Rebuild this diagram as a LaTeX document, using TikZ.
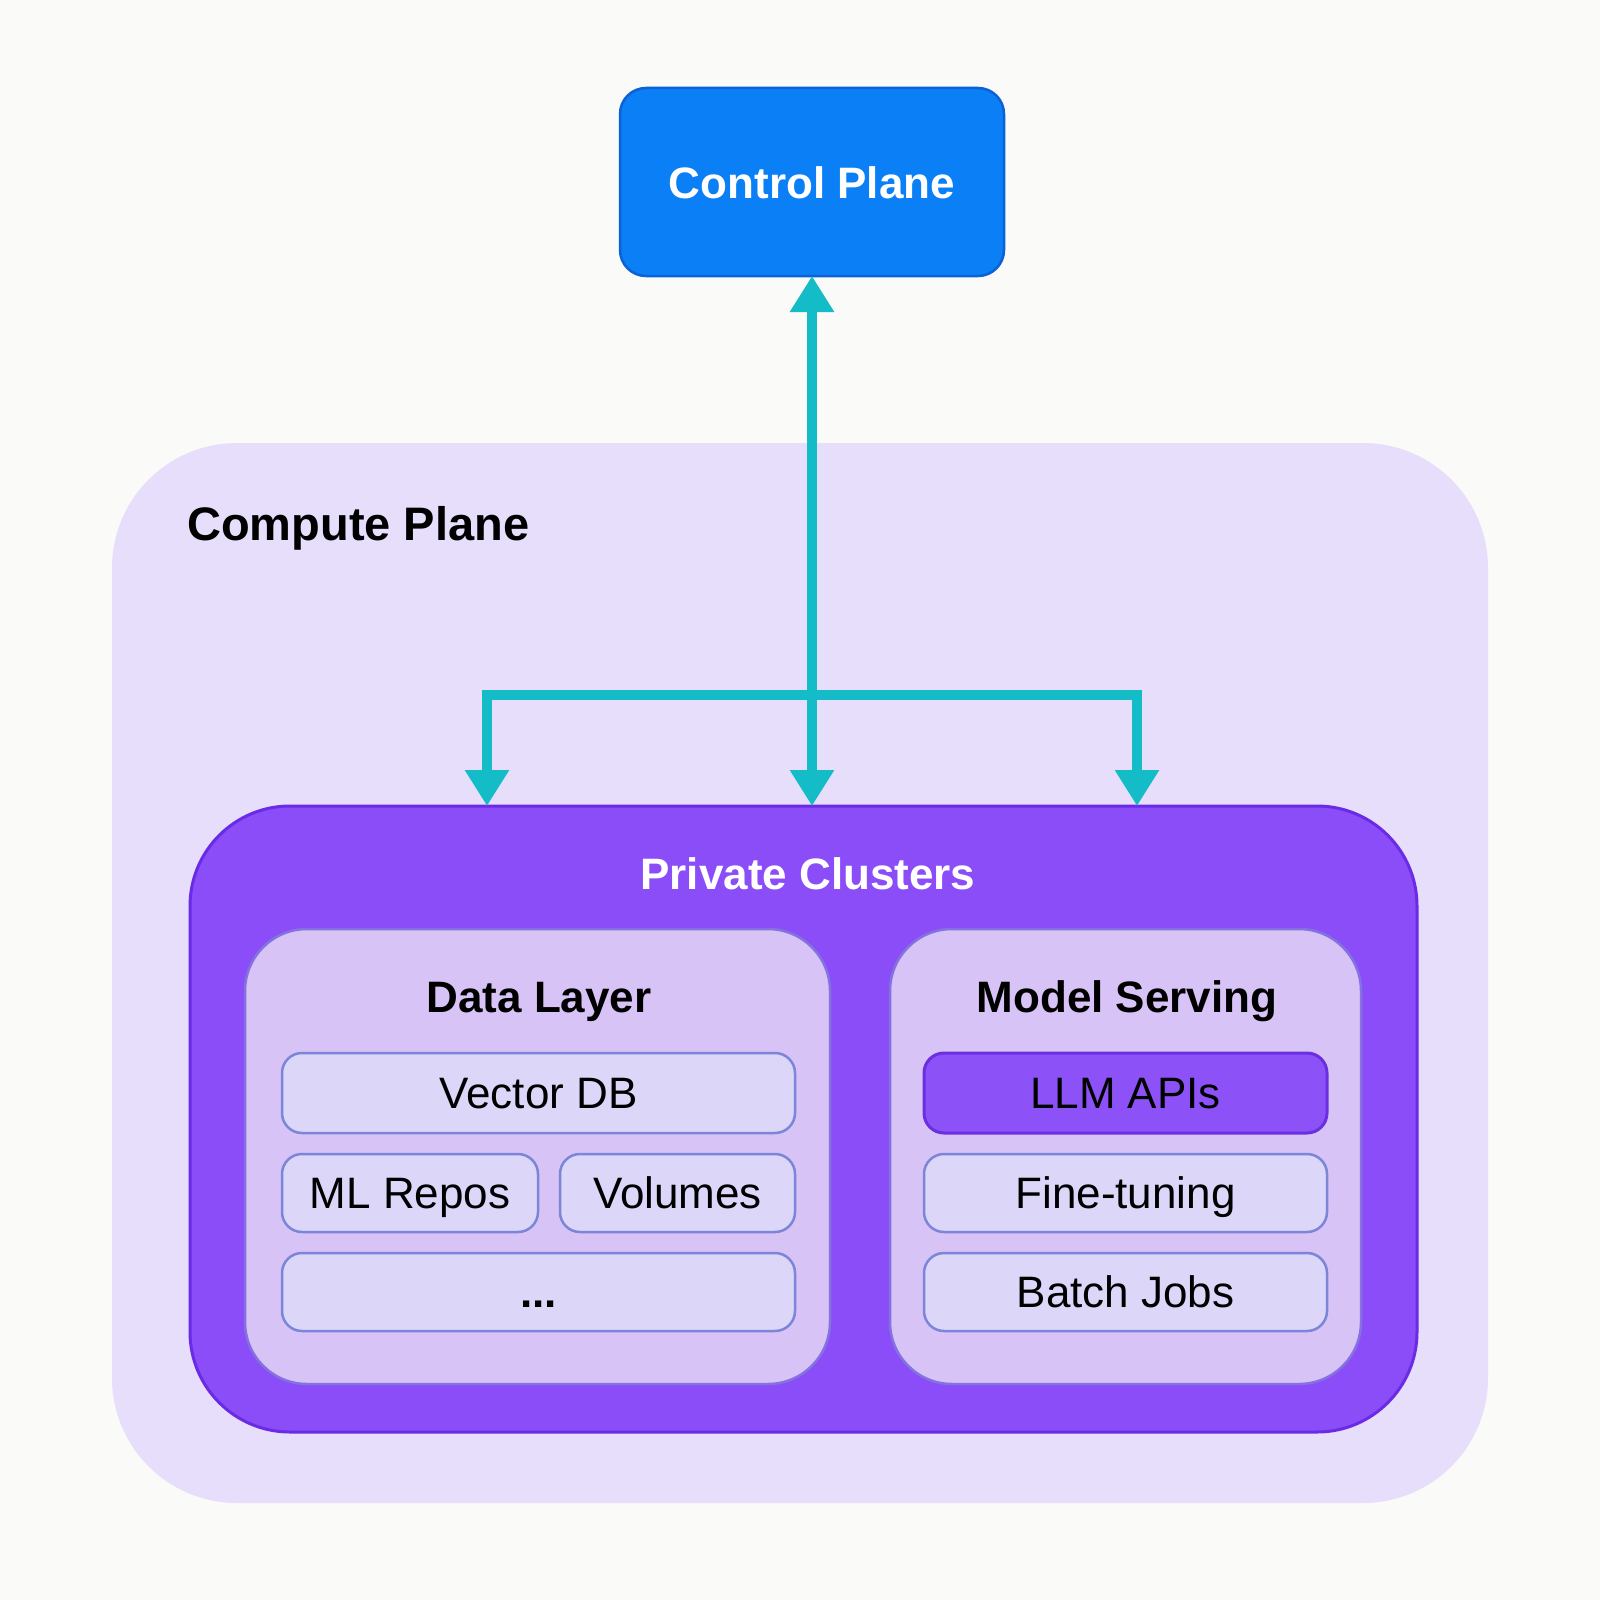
\documentclass[tikz,border=0pt]{standalone}
\usepackage{fontspec}
\setmainfont{Liberation Sans}
\usetikzlibrary{arrows.meta}
\definecolor{bgc}{HTML}{FAFAF8}
\definecolor{computefill}{HTML}{E6DEFA}
\definecolor{ctrlfill}{HTML}{0B80F6}
\definecolor{ctrldraw}{HTML}{0A62D6}
\definecolor{flowc}{HTML}{14BCC8}
\definecolor{pcfill}{HTML}{8A4DF8}
\definecolor{pcdraw}{HTML}{6A2BE6}
\definecolor{layerfill}{HTML}{D8C3F7}
\definecolor{layerdraw}{HTML}{8472E0}
\definecolor{leaffill}{HTML}{DCD6F9}
\definecolor{leafdraw}{HTML}{7C86D8}
\definecolor{hotfill}{HTML}{8D52F7}
\definecolor{hotdraw}{HTML}{6A30E0}
\begin{document}
\begin{tikzpicture}[x=1pt,y=-1pt,
  container/.style={rectangle, inner sep=0pt, outer sep=0pt},
  leaf/.style={rectangle, inner sep=0pt, outer sep=0pt, rounded corners=20pt,
    fill=leaffill, draw=leafdraw, line width=2.5pt,
    font=\fontsize{44}{48}\selectfont, text=black,
    text height=31.5pt, text depth=0pt},
  hotleaf/.style={leaf, fill=hotfill, draw=hotdraw, line width=3pt},
  title/.style={anchor=base, inner sep=0pt, font=\bfseries\fontsize{44}{48}\selectfont, text=black},
  flow/.style={draw=flowc, line width=10pt, line join=miter,
    {Triangle[width=42pt,length=36pt]}-{Triangle[width=42pt,length=36pt]}}
]
\fill[bgc] (0,0) rectangle (1600,1600);
\useasboundingbox (0,0) rectangle (1600,1600);

% Compute plane
\node[container, fill=computefill, rounded corners=125pt,
  minimum width=1376pt, minimum height=1060pt] (comp) at (800,973) {};
\node[anchor=base west, inner sep=0pt, font=\bfseries\fontsize{47}{52}\selectfont, text=black]
  (compt) at (187,540) {Compute Plane};

% Control plane
\node[container, fill=ctrlfill, draw=ctrldraw, line width=2.5pt, rounded corners=26pt,
  minimum width=384pt, minimum height=188pt] (cp) at (812,182) {};
\node[title, text=white] (cpt) at (812,198) {Control Plane};

% Private clusters
\node[container, fill=pcfill, draw=pcdraw, line width=3pt, rounded corners=100pt,
  minimum width=1227pt, minimum height=626pt] (pc) at (803.5,1119) {};
\node[title, text=white] (pct) at (808,889) {Private Clusters};

% connectors
\coordinate (j) at (812,695);
\coordinate (jl) at (487,695);
\coordinate (jr) at (1137,695);
\draw[flow] (j |- pc.north) -- (cp.south);
\draw[flow] (jl |- pc.north) -- (jl) -- (jr) -- (jr |- pc.north);

% Data layer
\node[container, fill=layerfill, draw=layerdraw, line width=2.5pt, rounded corners=62pt,
  minimum width=585pt, minimum height=455pt] (dl) at (537.5,1156.5) {};
\node[title] (dlt) at (539,1012) {Data Layer};
\node[leaf, minimum width=513pt, minimum height=80pt] (vdb) at (538.5,1093) {Vector DB};
\node[leaf, minimum width=256pt, minimum height=78pt] (mlr) at (410,1193) {ML Repos};
\node[leaf, minimum width=235pt, minimum height=78pt] (vol) at (677.5,1193) {Volumes};
\node[leaf, minimum width=513pt, minimum height=78pt] (more) at (538.5,1292) {\bfseries ...};

% Model serving
\node[container, fill=layerfill, draw=layerdraw, line width=2.5pt, rounded corners=62pt,
  minimum width=471pt, minimum height=455pt] (ms) at (1125.5,1156.5) {};
\node[title] (mst) at (1127,1012) {Model Serving};
\node[hotleaf, minimum width=403pt, minimum height=80pt] (llm) at (1125.5,1093) {LLM APIs};
\node[leaf, minimum width=403pt, minimum height=78pt] (ft) at (1125.5,1193) {Fine-tuning};
\node[leaf, minimum width=403pt, minimum height=78pt] (bj) at (1125.5,1292) {Batch Jobs};
\end{tikzpicture}
\end{document}
